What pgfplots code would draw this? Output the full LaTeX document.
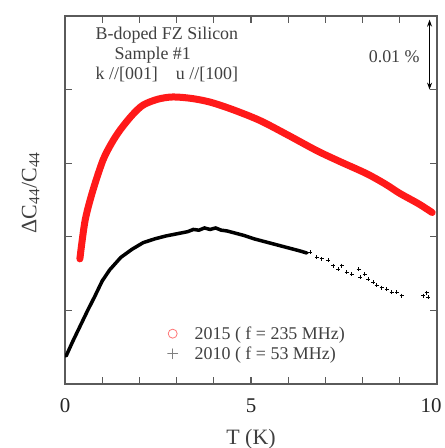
\documentclass[border=0pt]{standalone}
\usepackage{pgfplots}
\pgfplotsset{compat=1.18}
\usepackage{fontspec}
\setmainfont{Liberation Serif}
\usetikzlibrary{arrows.meta}
\definecolor{txt}{HTML}{404040}
\definecolor{axgray}{HTML}{5A5A5A}
\begin{document}
\begin{tikzpicture}
\begin{axis}[
    scale only axis,
    width=372bp, height=368bp,
    xmin=0, xmax=10, ymin=0, ymax=5,
    xtick={0,1,2,3,4,5,6,7,8,9,10},
    xticklabels={0,,,,,5,,,,,\hspace*{-12bp}10},
    ytick={1,2,3,4},
    yticklabels={},
    xtick pos=both, ytick pos=both,
    xtick align=inside, ytick align=inside,
    major tick length=7bp,
    axis line style={axgray, line width=1.3pt},
    every tick/.style={axgray, line width=1.1pt},
    xticklabel style={font=\fontsize{21}{23}\selectfont, text=black!85, yshift=-11bp},
    /pgf/number format/assume math mode=true,
    xlabel={T (K)},
    xlabel style={font=\fontsize{22}{24}\selectfont, text=txt, yshift=-10bp},
    ylabel={ΔC\textsubscript{44}/C\textsubscript{44}},
    ylabel style={font=\fontsize{22}{24}\selectfont, text=txt, at={(rel axis cs:0,0.52)}, yshift=22bp},
    legend style={draw=none, fill=none, at={(axis cs:2.5,0.83)}, anchor=north west,
        font=\fontsize{18}{19}\selectfont, text=txt, row sep=3bp,
        nodes={inner sep=1.5bp}},
    legend cell align=left,
]
\coordinate (o) at (rel axis cs:0,0);
% 2015 (f = 235 MHz)
\addplot[red, line width=7bp, opacity=0.9, smooth, line cap=round,
    legend image code/.code={\path (0,0) (25bp,0); \draw[red!60, line width=0.8pt] (8bp,0) circle (4.5bp);}]
coordinates {
(0.40,1.70) (0.54,2.22) (0.75,2.63) (1.02,3.04) (1.25,3.27) (1.48,3.45)
(1.80,3.65) (2.10,3.79) (2.50,3.87) (2.90,3.90) (3.40,3.88) (3.90,3.83)
(4.50,3.73) (5.24,3.58) (6.00,3.38) (6.77,3.17) (7.40,3.02) (8.10,2.86)
(8.60,2.72) (9.00,2.59) (9.50,2.45) (9.87,2.33)
};
\addlegendentry{2015 ( f = 235 MHz)}
% 2010 (f = 53 MHz), dense part
\addplot[black, line width=3.5bp, line cap=round,
    legend image code/.code={\path (0,0) (25bp,0); \draw[gray, line width=0.8pt] (3bp,0) -- (13bp,0) (8bp,-5bp) -- (8bp,5bp);}]
coordinates {
(0.03,0.38) (0.20,0.57) (0.40,0.78) (0.60,0.99) (0.80,1.19) (1.00,1.40)
(1.20,1.55) (1.50,1.72) (1.80,1.83) (2.10,1.92) (2.40,1.97) (2.70,2.01)
(3.00,2.04) (3.30,2.07) (3.45,2.10) (3.60,2.09) (3.75,2.12) (3.90,2.10)
(4.05,2.12) (4.20,2.09) (4.35,2.08) (4.50,2.06) (4.80,2.02) (5.10,1.97)
(5.40,1.93) (5.70,1.89) (6.00,1.85) (6.30,1.81) (6.50,1.78)
};
\addlegendentry{2010 ( f = 53 MHz)}
% 2010, sparse tail
\addplot[black, only marks, mark=+, mark size=2bp, line width=0.8pt, forget plot]
coordinates {
(6.59,1.79) (6.77,1.72) (6.90,1.70) (7.08,1.68) (7.21,1.61) (7.35,1.56)
(7.44,1.61) (7.57,1.52) (7.71,1.49) (7.89,1.56) (7.93,1.45) (8.06,1.49)
(8.15,1.42) (8.29,1.38) (8.38,1.34) (8.51,1.31) (8.65,1.29) (8.78,1.25)
(8.92,1.25) (9.05,1.20) (9.63,1.20) (9.72,1.24) (9.77,1.18)
};
\node[font=\fontsize{18}{20}\selectfont, text=txt, anchor=north west, align=left, inner sep=0pt]
  at (axis cs:0.82,4.85) {B-doped FZ Silicon\\\hspace*{19bp}Sample \#1\\k //[001]\quad u //[100]};
\node[font=\fontsize{18}{19}\selectfont, text=txt] at (axis cs:8.85,4.45) {0.01 \%};
\draw[{Stealth[length=7bp,width=5bp]}-{Stealth[length=7bp,width=5bp]}, black, line width=0.9pt]
  (axis cs:9.8,4.95) -- (axis cs:9.8,4.0);
\end{axis}
\pgfresetboundingbox
\path (o) ++(-65bp,-64bp) rectangle ++(445bp,448bp);
\end{tikzpicture}
\end{document}
